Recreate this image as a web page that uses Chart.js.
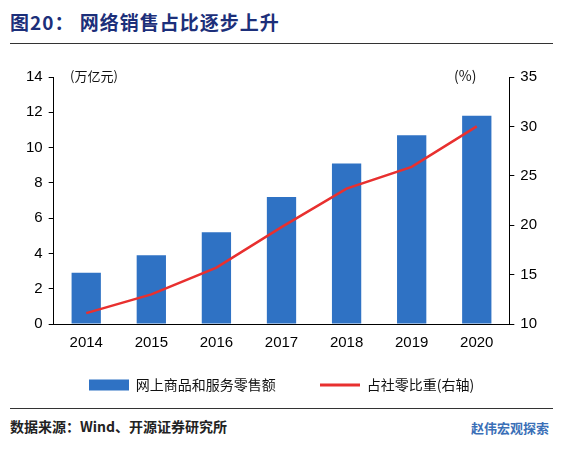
<!DOCTYPE html><html><head><meta charset="utf-8">
<script src="https://cdn.jsdelivr.net/npm/chart.js@4"></script>
<style>
body{margin:0;width:563px;height:452px;background:#fff;position:relative;font-family:"Noto Sans CJK SC",sans-serif;overflow:hidden}
#t{position:absolute;left:10px;top:8px;font-size:19px;font-weight:bold;color:#1c2f7a;letter-spacing:1px}
#l1{position:absolute;left:10px;top:43px;width:543px;border-top:1.5px solid #333}
#l2{position:absolute;left:10px;top:408px;width:543px;border-top:1px solid #333}
#src{position:absolute;left:10px;top:416px;font-size:14px;font-weight:bold;color:#222}
#wm{position:absolute;right:14px;top:418px;font-size:13px;color:#3a6fb7;font-weight:bold}
#u1{position:absolute;left:70px;top:66px;font-size:13px;color:#111}
#u2{position:absolute;left:454px;top:65px;font-size:14px;color:#111}
#c{position:absolute;left:0;top:62px}
</style></head><body>
<div id="t">图20：&nbsp;网络销售占比逐步上升</div><div id="l1"></div>
<div id="c"><canvas id="cv" width="563" height="340"></canvas></div>
<div id="u1">(万亿元)</div><div id="u2">(%)</div>
<div id="l2"></div><div id="src">数据来源：Wind、开源证券研究所</div><div id="wm">赵伟宏观探索</div>
<script>
const years=["2014","2015","2016","2017","2018","2019","2020"];
const online=[2.9,3.9,5.2,7.2,9.1,10.7,11.8];
const share=[11.1,13.0,15.7,19.8,23.7,25.9,30.0];
function icon(h,c){const k=document.createElement('canvas');k.width=40;k.height=12;const g=k.getContext('2d');g.fillStyle=c;g.fillRect(0,(12-h)/2,40,h);return k;}
const barIcon=icon(11,'#2f72c4'),lineIcon=icon(3,'#e8302f');
new Chart(document.getElementById('cv'),{data:{labels:years,datasets:[
{type:'bar',label:'网上商品和服务零售额',data:online,backgroundColor:'#2f72c4',yAxisID:'y',categoryPercentage:0.75,barPercentage:0.6,order:2,pointStyle:barIcon},
{type:'line',label:'占社零比重(右轴)',data:share,borderColor:'#e8302f',backgroundColor:'#e8302f',borderWidth:2.5,pointRadius:0,yAxisID:'y1',order:1,pointStyle:lineIcon}]},
options:{responsive:false,animation:false,layout:{padding:{left:20,right:20,top:8}},
plugins:{legend:{position:'bottom',labels:{sort:(a,b)=>a.datasetIndex-b.datasetIndex,usePointStyle:true,pointStyleWidth:40,
generateLabels:(ch)=>{const l=Chart.defaults.plugins.legend.labels.generateLabels(ch);l.forEach(i=>{if(i.datasetIndex===0)i.text+='\u3000\u3000';});return l;},
font:{size:14,family:'"Noto Sans CJK SC"'},color:'#111',padding:16}},tooltip:{enabled:false}},
scales:{x:{grid:{display:false,drawTicks:false},border:{color:'#000'},ticks:{font:{size:15,family:'Liberation Sans'},color:'#000',padding:10}},
y:{min:0,max:14,ticks:{stepSize:2,font:{size:15,family:'Liberation Sans'},color:'#000',padding:6},grid:{display:true,drawOnChartArea:false,drawTicks:true,tickLength:5,color:'#000'},border:{color:'#000'}},
y1:{position:'right',min:10,max:35,ticks:{stepSize:5,font:{size:15,family:'Liberation Sans'},color:'#000',padding:6},grid:{display:true,drawOnChartArea:false,drawTicks:true,tickLength:5,color:'#000'},border:{color:'#000'}}}}});
</script></body></html>
